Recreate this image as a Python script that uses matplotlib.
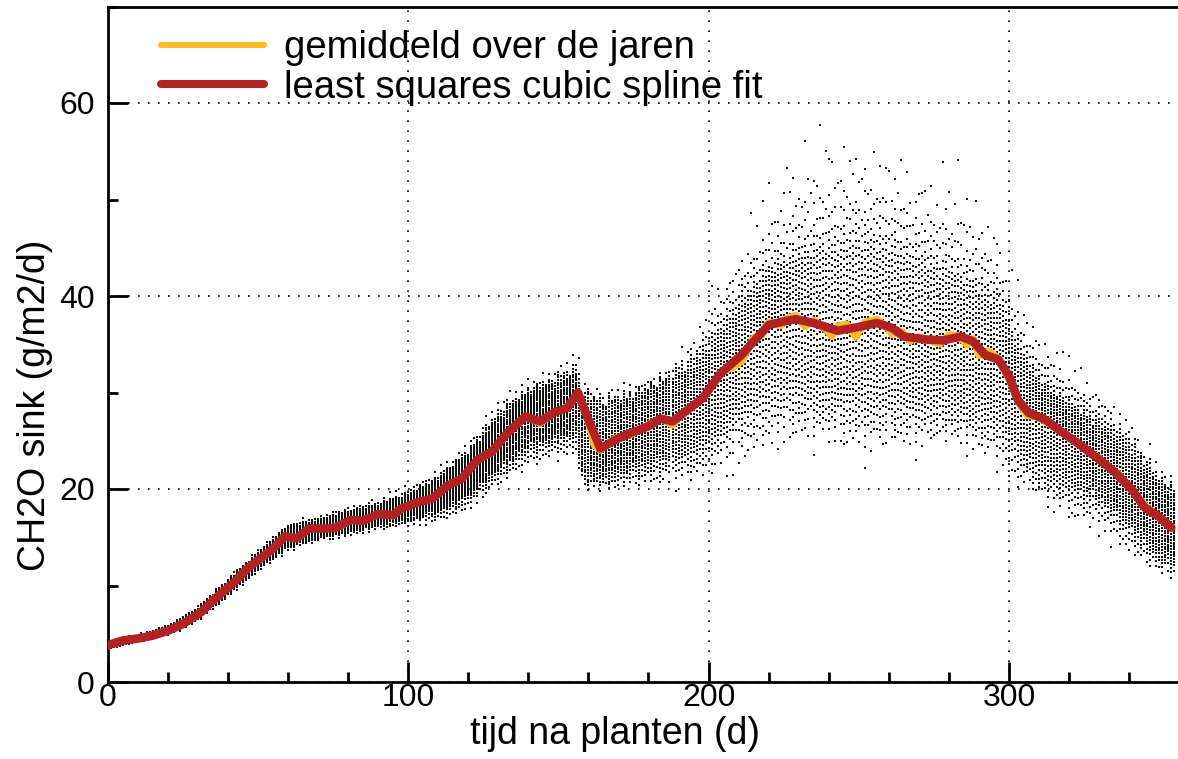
import numpy as np
import matplotlib
matplotlib.use("Agg")
import matplotlib.pyplot as plt
from matplotlib.ticker import MultipleLocator

plt.rcParams['font.family'] = ['Liberation Sans', 'DejaVu Sans']

# ---- least squares cubic spline fit (red) ----
fit_days = [0, 5, 10, 15, 20, 25, 31, 36, 42, 47, 53, 56, 59, 63, 67, 73, 76, 81, 85, 90,
            95, 98, 103, 108, 113, 118, 123, 128, 133, 139, 144, 149, 153, 156.5, 160, 164,
            169, 174, 180, 184, 188, 193, 198, 204, 211, 215, 220, 224, 229, 235, 243, 250,
            256, 261, 265, 272, 278, 284, 288, 292, 296.5, 300, 303, 306.5, 312, 318, 323,
            329, 335, 341, 345, 350, 354]
fit_vals = [3.8, 4.3, 4.5, 4.8, 5.3, 6.0, 7.2, 8.7, 10.3, 11.9, 13.3, 14.1, 15.1, 14.9, 15.9,
            15.9, 16.0, 16.8, 16.7, 17.4, 17.3, 18.0, 18.6, 19.0, 20.3, 21.1, 23.0, 23.9, 25.8,
            27.5, 27.0, 28.0, 28.4, 30.0, 27.2, 24.2, 25.1, 25.8, 26.5, 27.3, 27.0, 28.2, 29.4,
            32.0, 33.9, 35.3, 37.0, 37.3, 37.6, 37.2, 36.4, 36.8, 37.2, 36.7, 35.8, 35.5, 35.4,
            35.8, 35.3, 33.9, 33.4, 31.7, 29.2, 27.9, 27.2, 25.8, 24.7, 23.3, 21.8, 19.9, 18.1,
            17.1, 16.0]

# ---- mean over the years (yellow) ----
mean_days = [0, 5, 10, 15, 20, 25, 31, 36, 42, 47, 53, 56, 59, 63, 67, 73, 76, 81, 85, 90,
             95, 98, 103, 108, 113, 118, 123, 128, 133, 139, 144, 149, 153, 156.5, 159, 162,
             164, 169, 174, 180, 184, 188, 193, 198, 204, 208, 211, 215, 218, 220, 224, 226,
             229, 232, 235, 238, 241, 243, 246, 249, 252, 256, 259, 261, 264, 267, 270, 274,
             277, 280, 283, 286, 288, 290, 293, 296, 298, 300, 303, 306, 309, 312, 315, 318,
             321, 324, 327, 330, 333, 336, 339, 342, 345, 348, 351, 354]
mean_vals = [3.8, 4.3, 4.5, 4.8, 5.3, 6.0, 7.2, 8.7, 10.3, 11.9, 13.3, 14.1, 15.1, 14.9, 15.9,
             15.9, 16.0, 16.8, 16.7, 17.4, 17.2, 18.0, 18.6, 19.0, 20.3, 21.1, 23.0, 23.8, 25.8,
             27.5, 26.8, 28.0, 28.4, 30.0, 28.0, 24.5, 24.0, 25.3, 25.6, 26.7, 27.3, 26.6, 28.3,
             29.3, 32.0, 32.6, 33.2, 35.7, 36.0, 37.3, 36.9, 37.7, 38.0, 36.8, 37.5, 36.8, 35.8,
             36.9, 37.1, 35.7, 37.3, 37.6, 36.9, 36.0, 36.4, 35.3, 35.8, 35.3, 35.0, 36.0, 35.9,
             34.9, 35.6, 33.8, 34.3, 33.7, 32.6, 31.3, 29.0, 27.6, 27.5, 27.0, 26.4, 25.9, 25.2,
             24.5, 23.8, 23.2, 22.2, 21.7, 20.6, 19.5, 18.4, 17.5, 16.7, 15.9]

# ---- spread of the yearly values per day (scatter cloud) ----
env_days    = [0, 10, 20, 30, 40, 50, 60, 70, 80, 90, 100, 110, 120, 130, 140, 150, 156, 158,
               165, 175, 185, 195, 200, 210, 220, 230, 240, 250, 260, 270, 280, 290, 297, 301,
               305, 310, 320, 330, 340, 350, 355]
env_lo      = [3.4, 4.1, 4.8, 6.2, 8.7, 11.3, 13.5, 14.5, 15.0, 15.6, 16.0, 16.2, 17.4, 20.0,
               21.8, 22.8, 22.8, 19.8, 19.6, 19.8, 20.0, 20.4, 20.8, 21.5, 23.5, 24.5, 24.5,
               23.0, 24.0, 23.5, 24.5, 23.2, 21.5, 19.3, 20.0, 18.6, 16.5, 15.0, 12.5, 11.0, 10.3]
env_core_lo = [3.6, 4.3, 5.1, 6.7, 9.3, 12.0, 14.3, 15.2, 15.8, 16.5, 17.1, 17.8, 19.3, 22.0,
               24.2, 25.2, 25.5, 21.5, 21.3, 22.0, 22.8, 23.5, 24.5, 27.0, 28.5, 29.0, 28.5,
               28.0, 28.0, 28.0, 28.0, 27.0, 26.0, 24.0, 23.0, 21.5, 20.0, 18.8, 16.0, 13.0, 12.5]
env_mid     = [3.8, 4.5, 5.3, 7.1, 9.8, 12.6, 15.0, 15.9, 16.6, 17.3, 18.1, 19.3, 21.5, 24.6,
               27.4, 28.0, 29.0, 25.5, 24.6, 25.8, 27.0, 28.6, 30.0, 33.8, 37.0, 37.6, 36.6,
               36.8, 36.8, 35.5, 35.5, 34.2, 33.2, 31.0, 28.8, 27.3, 25.2, 23.0, 20.0, 17.0, 15.8]
env_core_hi = [4.0, 4.7, 5.6, 7.5, 10.3, 13.2, 15.8, 16.6, 17.4, 18.1, 19.1, 20.8, 23.5, 27.3,
               29.8, 31.0, 32.0, 29.5, 28.5, 29.5, 30.8, 33.0, 35.0, 39.5, 43.0, 45.0, 46.0,
               46.5, 46.0, 44.5, 43.5, 41.5, 40.0, 36.5, 34.0, 31.5, 29.0, 27.0, 24.5, 20.5, 19.5]
env_hi      = [4.3, 5.0, 6.0, 8.0, 11.0, 13.9, 16.7, 17.4, 18.4, 19.2, 20.6, 22.3, 25.0, 29.5,
               31.5, 33.0, 34.5, 32.0, 30.5, 31.0, 32.5, 36.0, 41.0, 46.5, 53.0, 59.0, 61.0,
               59.0, 59.0, 55.0, 57.0, 53.0, 48.0, 44.0, 41.0, 38.0, 35.0, 31.5, 27.5, 23.0, 21.0]

# quantile shape of the yearly values and the day-to-day variation of the cloud
quant_u = [0.0, 0.025, 0.1, 0.5, 0.9, 0.975, 1.0]
day_offsets = [0.52, 0.13, 0.87, 0.31, 0.69, 0.05, 0.44, 0.95, 0.22, 0.61, 0.38, 0.78,
               0.17, 0.83, 0.27, 0.58, 0.09, 0.73, 0.41, 0.99, 0.35, 0.64, 0.19]
core_scale = [1.0, 0.85, 1.1, 0.92, 1.05, 0.8, 0.97, 1.12, 0.88, 1.02, 0.9, 1.08, 0.95,
              0.83, 1.15, 0.93, 1.0]
tail_scale = [0.7, 1.0, 0.55, 0.9, 0.8, 1.05, 0.6, 0.95, 0.75, 0.85, 0.65, 1.0, 0.9, 0.7,
              0.8, 0.6, 0.95, 0.85, 1.0]
n_years = 32
n_days = 356

xticks_major = [0, 100, 200, 300]
yticks_major = [0, 20, 40, 60]

label_mean = "gemiddeld over de jaren"
label_fit = "least squares cubic spline fit"
xlabel = "tijd na planten (d)"
ylabel = "CH2O sink (g/m2/d)"

# ---- build the scatter from the envelope ----
days = np.arange(n_days)
lo = np.interp(days, env_days, env_lo)
clo = np.interp(days, env_days, env_core_lo)
mid = np.interp(days, env_days, env_mid)
chi = np.interp(days, env_days, env_core_hi)
hi = np.interp(days, env_days, env_hi)
sx, sy = [], []
for i, d in enumerate(days):
    cs = core_scale[d % len(core_scale)]
    ts = tail_scale[d % len(tail_scale)]
    c_lo = mid[i] - cs * (mid[i] - clo[i])
    c_hi = mid[i] + cs * (chi[i] - mid[i])
    t_lo = c_lo - ts * (clo[i] - lo[i])
    t_hi = c_hi + ts * (hi[i] - chi[i])
    knots = [t_lo, t_lo + 0.45 * (c_lo - t_lo), c_lo, mid[i], c_hi,
             c_hi + 0.4 * (t_hi - c_hi), t_hi]
    off = day_offsets[d % len(day_offsets)]
    for k in range(n_years):
        u = (k + off) / n_years
        sx.append(d)
        sy.append(np.interp(u, quant_u, knots))

W, H = 1178, 759
fig = plt.figure(figsize=(W / 100, H / 100), dpi=100)
ax = fig.add_axes([107.5 / W, 77 / H, (W - 107.5) / W, (682 - 6.5) / H])

ax.scatter(sx, sy, s=1.8, marker='s', c='#111111', linewidths=0, zorder=2)
l1, = ax.plot(mean_days, mean_vals, color='#FDBB2A', lw=5.0, solid_capstyle='round',
              solid_joinstyle='round', zorder=3, label=label_mean)
l2, = ax.plot(fit_days, fit_vals, color='#B22222', lw=6.2, solid_capstyle='round',
              solid_joinstyle='round', zorder=4, label=label_fit)

ax.set_xlim(0, 356.2)
ax.set_ylim(0, 70)
ax.set_xticks(xticks_major)
ax.set_yticks(yticks_major)
ax.xaxis.set_minor_locator(MultipleLocator(20))
ax.yaxis.set_minor_locator(MultipleLocator(10))
ax.tick_params(which='both', direction='in', width=2, labelsize=23, color='black')
ax.tick_params(which='major', length=14.4)
ax.tick_params(which='minor', length=7.2)
ax.tick_params(axis='x', which='major', pad=1)
ax.tick_params(axis='y', which='major', pad=9)
for s in ['left', 'bottom', 'top']:
    ax.spines[s].set_linewidth(2)
ax.spines['right'].set_visible(False)
ax.grid(True, which='major', color='black', lw=1.2, linestyle=(0, (1, 5)))
ax.set_axisbelow(True)

ax.set_xlabel(xlabel, fontsize=27)
ax.xaxis.set_label_coords((615 - 107.5) / (W - 107.5), (682 - 715.6) / 675.5)
ax.set_ylabel(ylabel, fontsize=27)
ax.yaxis.set_label_coords((53 - 107.5) / (W - 107.5), (682 - 405) / 675.5)

leg = ax.legend(handles=[l1, l2], loc='upper left', bbox_to_anchor=(161 / W, 1 - 30 / H),
                bbox_transform=fig.transFigure, frameon=False, borderpad=0, borderaxespad=0,
                handlelength=2.7, handletextpad=0.53, labelspacing=0.1, fontsize=27.5)
leg.get_lines()[0].set_linewidth(4.4)
leg.get_lines()[1].set_linewidth(5.8)

fig.savefig("out.png", dpi=100)
